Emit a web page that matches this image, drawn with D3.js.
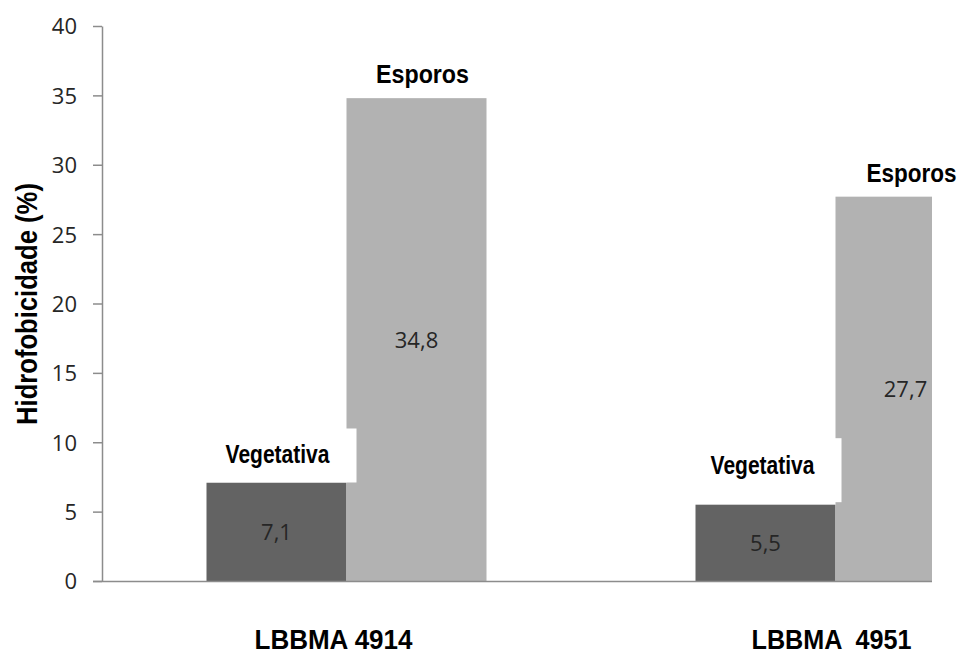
<!DOCTYPE html>
<html>
<head>
<meta charset="utf-8">
<script src="https://cdn.jsdelivr.net/npm/d3@7"></script>
<style>
  html, body { margin: 0; padding: 0; background: #fff; }
  svg { display: block; }
  .narrow { font-family: "Liberation Sans Narrow", "Arial Narrow", "Liberation Sans", Arial, sans-serif; font-weight: bold; fill: #000; }
  .num { font-family: "Open Sans", "Noto Sans", sans-serif; fill: #262626; }
</style>
</head>
<body>
<svg id="chart" width="963" height="654"></svg>
<script>
// ---- data ----
const categories = ["LBBMA 4914", "LBBMA  4951"];
const seriesNames = ["Vegetativa", "Esporos"];
const vegetativa = [7.1, 5.5];
const esporos = [34.8, 27.7];
const valueLabels = [["7,1", "34,8"], ["5,5", "27,7"]];
const yTicks = [0, 5, 10, 15, 20, 25, 30, 35, 40];
const yTitle = "Hidrofobicidade (%)";

// ---- layout ----
const W = 963, H = 654;
const axisX = 102, clipRight = 932;
const svg = d3.select("#chart");

const y = d3.scaleLinear().domain([0, 40]).range([581, 26]);
const x0 = d3.scaleBand().domain(categories).range([axisX, axisX + 978])
  .paddingInner(0.4274).paddingOuter(0.2137);
const x1 = d3.scaleBand().domain(seriesNames).range([0, x0.bandwidth()]).padding(0);
const colors = { "Vegetativa": "#636363", "Esporos": "#b2b2b2" };

const data = categories.map((c, i) => ({
  cat: c,
  values: [
    { s: "Vegetativa", v: vegetativa[i], lab: valueLabels[i][0] },
    { s: "Esporos", v: esporos[i], lab: valueLabels[i][1] }
  ]
}));

// helper: narrow bold text, horizontally scaled to a target width
function narrowText(parent, str, cx, cy, size, targetW, rotate) {
  const g = parent.append("g");
  const t = g.append("text").attr("class", "narrow")
    .attr("font-size", size)
    .attr("text-anchor", "middle")
    .attr("xml:space", "preserve")
    .style("white-space", "pre")
    .text(str);
  const natural = t.node().getComputedTextLength() || targetW;
  const sx = Math.min(1, targetW / natural);
  g.attr("transform", `translate(${cx},${cy})` + (rotate ? ` rotate(${rotate})` : "") + ` scale(${sx},1)`);
  return g;
}

svg.append("defs").append("clipPath").attr("id", "plotclip")
  .append("rect").attr("x", 0).attr("y", 0).attr("width", clipRight).attr("height", H);

const plot = svg.append("g").attr("clip-path", "url(#plotclip)");

// bars
const groups = plot.selectAll("g.grp").data(data).join("g")
  .attr("class", "grp")
  .attr("transform", d => `translate(${x0(d.cat)},0)`);

groups.selectAll("rect.bar").data(d => d.values).join("rect")
  .attr("class", "bar")
  .attr("x", d => x1(d.s))
  .attr("width", x1.bandwidth())
  .attr("y", d => y(d.v))
  .attr("height", d => y(0) - y(d.v))
  .attr("fill", d => colors[d.s]);

// value labels (centered in bars)
groups.selectAll("text.val").data(d => d.values).join("text")
  .attr("class", "num")
  .attr("x", d => x1(d.s) + x1.bandwidth() / 2)
  .attr("y", d => (y(d.v) + y(0)) / 2 + 8)
  .attr("text-anchor", "middle")
  .attr("font-size", 22)
  .text(d => d.lab);

// x axis baseline
plot.append("line")
  .attr("x1", axisX - 9).attr("x2", clipRight)
  .attr("y1", y(0) + 0.5).attr("y2", y(0) + 0.5)
  .attr("stroke", "#8c8c8c").attr("stroke-width", 1.5);

// series name labels with white backgrounds
const vegDy = [19, 31];     // gap between bar top and label baseline
const vegBoxH = [54, 64];
data.forEach((d, i) => {
  const vx = x0(d.cat) + x1("Vegetativa") + x1.bandwidth() / 2;
  const cx = vx + (i === 0 ? 1 : -3);
  const base = y(d.values[0].v) - vegDy[i];
  const boxBottom = y(d.values[0].v) - (i === 0 ? 0 : 2.5);
  svg.append("rect")
    .attr("x", cx - 79).attr("width", 158)
    .attr("y", boxBottom - vegBoxH[i]).attr("height", vegBoxH[i])
    .attr("fill", "#fff");
  narrowText(svg, "Vegetativa", cx, base, 25, 104);

  const ex = x0(d.cat) + x1("Esporos") + x1.bandwidth() / 2;
  narrowText(svg, "Esporos", ex + (i === 0 ? 6 : 6), y(d.values[1].v) - 15, 25, i === 0 ? 93 : 90);
});

// y axis
const yAxis = d3.axisLeft(y).tickValues(yTicks).tickSize(9).tickSizeOuter(0).tickPadding(16);
const ya = svg.append("g").attr("transform", `translate(${axisX},0)`).call(yAxis);
ya.select(".domain").attr("stroke", "#8c8c8c").attr("stroke-width", 1.5);
ya.selectAll(".tick line").attr("stroke", "#8c8c8c").attr("stroke-width", 1.5);
ya.selectAll(".tick text")
  .attr("class", "num")
  .attr("font-size", 22)
  .attr("fill", "#262626")
  .attr("dy", "0.36em");

// y title
narrowText(svg, yTitle, 37, 304, 30, 242, -90);

// category labels
const catOffsets = [-13, -4];
const catWidths = [158, 160];
categories.forEach((c, i) => {
  narrowText(svg, c, x0(c) + x0.bandwidth() / 2 + catOffsets[i], 649, 27, catWidths[i]);
});
</script>
</body>
</html>
